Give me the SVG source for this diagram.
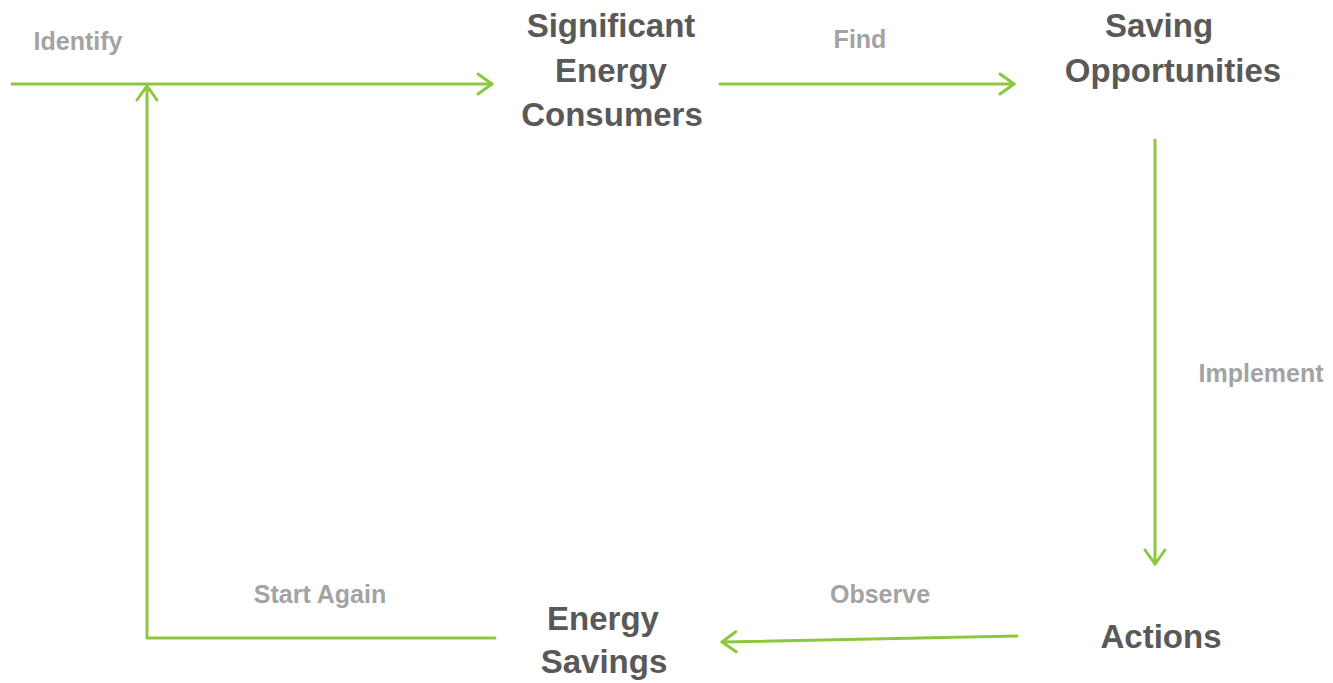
<svg xmlns="http://www.w3.org/2000/svg" width="1333" height="683" viewBox="0 0 1333 683">
<style>
.node{font-family:"Liberation Sans",Arial,sans-serif;font-weight:bold;font-size:33px;fill:#595959;text-anchor:middle}
.lbl{font-family:"Liberation Sans",Arial,sans-serif;font-weight:bold;font-size:25px;fill:#a3a3a3;text-anchor:middle}
.c{fill:none;stroke:#8dc63f;stroke-width:3;stroke-linecap:round;stroke-linejoin:round}
</style>
<defs>
<marker id="ah" markerUnits="userSpaceOnUse" markerWidth="20" markerHeight="26" viewBox="-16 -12 20 24" refX="0" refY="0" orient="auto">
<path d="M-14,-10 L0,0 L-14,10" fill="none" stroke="#8dc63f" stroke-width="3" stroke-linecap="round" stroke-linejoin="round"/>
</marker>
</defs>
<rect width="1333" height="683" fill="#ffffff"/>
<g id="connectors">
<path class="c" d="M12,84 L492,84" marker-end="url(#ah)"/>
<path class="c" d="M720,84 L1014,84" marker-end="url(#ah)"/>
<path class="c" d="M1155,140 L1155,564" marker-end="url(#ah)"/>
<path class="c" d="M1017,636 L722,642" marker-end="url(#ah)"/>
<path class="c" d="M495,638 L147,638 L147,86" marker-end="url(#ah)"/>
</g>
<g id="labels">
<text class="lbl" x="78" y="50">Identify</text>
<text class="lbl" x="860" y="48">Find</text>
<text class="lbl" x="1261" y="382">Implement</text>
<text class="lbl" x="880" y="603">Observe</text>
<text class="lbl" x="320" y="603">Start Again</text>
</g>
<g id="node-sec">
<text class="node" x="611" y="37">Significant</text>
<text class="node" x="611" y="82">Energy</text>
<text class="node" x="612" y="126">Consumers</text>
</g>
<g id="node-saving">
<text class="node" x="1159" y="37">Saving</text>
<text class="node" x="1173" y="82">Opportunities</text>
</g>
<g id="node-actions">
<text class="node" x="1161" y="648">Actions</text>
</g>
<g id="node-energy-savings">
<text class="node" x="603" y="630">Energy</text>
<text class="node" x="604" y="673">Savings</text>
</g>
</svg>
